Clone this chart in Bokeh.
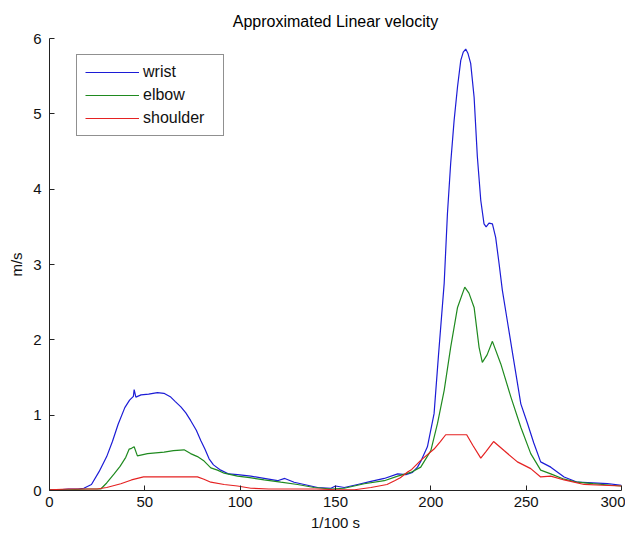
from bokeh.plotting import figure
from bokeh.models import Range1d, FixedTicker, Legend, LegendItem
from bokeh.embed import file_html
from bokeh.resources import INLINE

# ---- data ----
wrist_x = [0, 5, 10, 15, 18, 22, 26, 30, 33, 36, 39.5, 42, 44, 44.4, 45.3, 48, 52, 56.6, 60, 63.6,
           66, 68.9, 71.5, 74, 77, 79.4, 81.5, 83.7, 86, 89.8, 94, 98.6, 105.6, 112.6, 119.6, 123.4,
           128.3, 133.6, 140.6, 147.6, 150, 154.6, 161.6, 168.6, 175.6, 182.6, 186.9, 190.4, 193,
           195, 198.2, 201.7, 204, 207, 208.7, 210.4, 212.2, 214, 215.7, 217, 218.3, 219.5, 220.9,
           222.7, 224.4, 226.2, 227.9, 229, 230.5, 232.3, 234, 235.8, 237.5, 240, 243, 247.2, 250.7,
           254, 257.6, 262.9, 269.9, 276.9, 285, 292.6, 300]
wrist_y = [0.01, 0.01, 0.02, 0.02, 0.03, 0.08, 0.25, 0.45, 0.65, 0.88, 1.10, 1.20, 1.25, 1.34, 1.24,
           1.27, 1.28, 1.30, 1.29, 1.24, 1.18, 1.11, 1.03, 0.93, 0.80, 0.66, 0.55, 0.42, 0.34, 0.27,
           0.22, 0.21, 0.19, 0.16, 0.13, 0.16, 0.11, 0.08, 0.04, 0.03, 0.06, 0.04, 0.08, 0.12, 0.16,
           0.22, 0.21, 0.24, 0.31, 0.40, 0.58, 1.02, 1.79, 2.75, 3.67, 4.34, 4.91, 5.36, 5.71, 5.82,
           5.86, 5.80, 5.67, 5.22, 4.43, 3.85, 3.54, 3.50, 3.55, 3.54, 3.36, 3.01, 2.66, 2.27, 1.80,
           1.15, 0.89, 0.63, 0.38, 0.31, 0.18, 0.11, 0.10, 0.09, 0.07]

elbow_x = [0, 10, 20, 26.9, 30, 33.9, 37, 40, 41.8, 43, 44.4, 46.1, 51.4, 60.1, 65, 70.6, 74, 77.6,
           81.1, 84.6, 88.1, 91.6, 98.6, 105, 112.6, 121.3, 130.1, 138.8, 147.6, 154.6, 165.1,
           175.6, 182.6, 189.5, 194.7, 200, 203.5, 207, 210.4, 214, 217.8, 220, 222.7, 225.3, 227,
           229.5, 232.3, 236.7, 242, 247.2, 252.4, 257.6, 262.9, 269.9, 276.9, 285, 294.4, 300]
elbow_y = [0.01, 0.01, 0.02, 0.02, 0.10, 0.22, 0.32, 0.44, 0.55, 0.56, 0.58, 0.46, 0.49, 0.51, 0.53,
           0.54, 0.49, 0.45, 0.39, 0.30, 0.27, 0.23, 0.19, 0.17, 0.14, 0.11, 0.08, 0.04, 0.02, 0.03,
           0.09, 0.13, 0.19, 0.24, 0.31, 0.53, 0.89, 1.33, 1.90, 2.43, 2.70, 2.62, 2.43, 1.90, 1.70,
           1.80, 1.98, 1.68, 1.24, 0.84, 0.49, 0.27, 0.22, 0.15, 0.11, 0.09, 0.07, 0.06]

shoulder_x = [0, 10, 20, 25, 30, 37.4, 43, 49.3, 60, 70, 77.6, 81, 84.6, 91.6, 98.6, 105.6, 115, 125,
              140, 150, 160, 168.6, 177, 181, 184, 188, 190, 194.7, 201.7, 205, 207.8, 218.8, 222,
              226.2, 229, 232.9, 238.4, 245.4, 252.4, 257.6, 262.9, 269.9, 280.4, 290, 300]
shoulder_y = [0.01, 0.02, 0.02, 0.02, 0.04, 0.09, 0.14, 0.18, 0.18, 0.18, 0.18, 0.15, 0.11, 0.08,
              0.06, 0.03, 0.02, 0.02, 0.02, 0.01, 0.01, 0.04, 0.08, 0.13, 0.17, 0.25, 0.28, 0.40,
              0.55, 0.65, 0.74, 0.74, 0.60, 0.43, 0.52, 0.65, 0.53, 0.38, 0.29, 0.18, 0.19, 0.14,
              0.08, 0.07, 0.06]

x_ticks = [0, 50, 100, 150, 200, 250, 300]
y_ticks = [0, 1, 2, 3, 4, 5, 6]

FONT = "Liberation Sans"

p = figure(frame_width=572, frame_height=452, output_backend="svg", toolbar_location=None,
           x_range=Range1d(0, 300), y_range=Range1d(0, 6),
           min_border_left=49, min_border_right=4, min_border_top=38, min_border_bottom=36,
           title="Approximated Linear velocity")
p.title.align = "center"
p.title.text_font = FONT
p.title.text_font_size = "16px"
p.title.text_font_style = "normal"
p.title.text_color = "#000000"
p.title.standoff = 17
p.outline_line_color = None
p.xgrid.visible = False
p.ygrid.visible = False
p.background_fill_color = "white"
p.border_fill_color = "white"

for ax in (p.xaxis[0], p.yaxis[0]):
    ax.major_tick_in = 5
    ax.major_tick_out = 0
    ax.minor_tick_in = 0
    ax.minor_tick_out = 0
    ax.axis_line_color = "#222222"
    ax.major_tick_line_color = "#222222"
    ax.major_label_text_font = FONT
    ax.major_label_text_font_size = "15px"
    ax.major_label_text_color = "#111111"
    ax.axis_label_text_font = FONT
    ax.axis_label_text_font_size = "15px"
    ax.axis_label_text_font_style = "normal"
    ax.axis_label_text_color = "#111111"

p.xaxis.ticker = FixedTicker(ticks=x_ticks)
p.yaxis.ticker = FixedTicker(ticks=y_ticks)
p.xaxis.axis_label = "1/100 s"
p.yaxis.axis_label = "m/s"
p.xaxis.major_label_standoff = 6
p.yaxis.major_label_standoff = 8
p.xaxis.axis_label_standoff = 4
p.yaxis.axis_label_standoff = 5

r1 = p.line(wrist_x, wrist_y, line_color="#1c1cd6", line_width=1.2)
r2 = p.line(elbow_x, elbow_y, line_color="#1f8a1f", line_width=1.2)
r3 = p.line(shoulder_x, shoulder_y, line_color="#e52222", line_width=1.2)

legend = Legend(items=[LegendItem(label="wrist", renderers=[r1]),
                       LegendItem(label="elbow", renderers=[r2]),
                       LegendItem(label="shoulder", renderers=[r3])],
                location=(27, 354))
legend.label_text_font = FONT
legend.label_text_font_size = "16px"
legend.label_text_color = "#111111"
legend.glyph_width = 54
legend.glyph_height = 16
legend.label_height = 16
legend.label_width = 72
legend.label_standoff = 4
legend.spacing = 5
legend.padding = 8
legend.margin = 0
legend.border_line_color = "#222222"
legend.border_line_width = 1
legend.background_fill_alpha = 1.0
p.add_layout(legend)

open("out.html", "w").write(file_html(p, INLINE))
